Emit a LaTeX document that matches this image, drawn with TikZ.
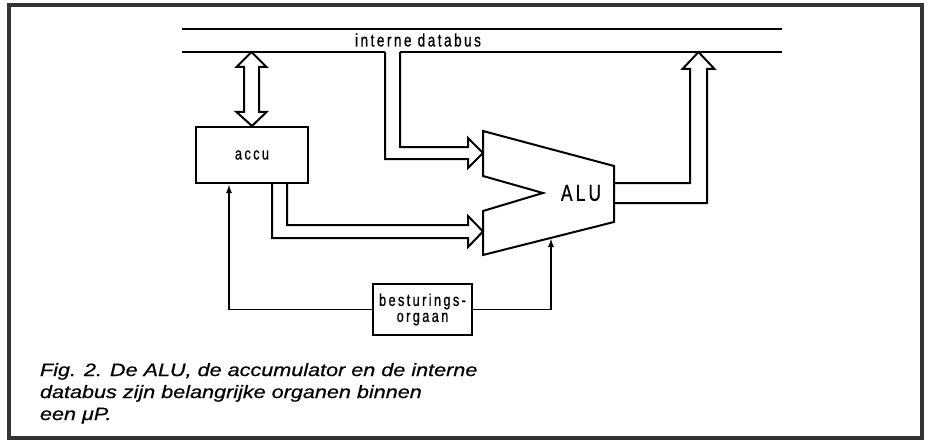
\documentclass[tikz,border=0pt]{standalone}
\usepackage{fontspec}
\usetikzlibrary{arrows.meta,positioning}
\setmainfont{Liberation Sans}
\newfontfamily\lblfont[FakeStretch=0.75,LetterSpace=14,FakeBold=0.8]{Liberation Sans}
\newfontfamily\capfont[FakeStretch=1.2,FakeBold=0.5]{Liberation Sans}

\begin{document}
\begin{tikzpicture}[
			x=1pt, y=-1pt,
			line width=2pt,
			blok/.style={rectangle, draw=black, fill=white, inner sep=0pt, align=center},
			stuur/.style={-{Latex[length=9pt,width=6pt]}, line width=1.8pt},
			dik/.style={line width=2pt, line join=miter},
			label/.style={inner sep=0pt, font=\lblfont\fontsize{17}{17}\selectfont}
		]
		\useasboundingbox (0,0) rectangle (933,441);
		\draw[line width=3.5pt, black!80] (9,5) rectangle (922,438);

		% interne databus
		\draw (182,29) -- (782,29);
		\draw (182,52) -- (385,52) (400,52) -- (782,52);
		\node[label, font=\lblfont\fontsize{18}{18}\selectfont] (bus) at (418,40) {interne databus};

		% blokken
		\node[blok, minimum width=112pt, minimum height=56pt, label] (accu) at (252,155) {accu};
		\node[blok, minimum width=99pt, minimum height=51pt, label, font=\lblfont\fontsize{17}{16}\selectfont] (besturing) at (422.5,309.5) {besturings-\\orgaan};

		% ALU
		\coordinate (in1) at (483,153);
		\coordinate (in2) at (483,231.5);
		\coordinate (stuurin) at (551,238);
		\coordinate (uit) at (698.5,52);
		\draw[dik, fill=white] (483,131) -- (614,166) -- (614,222) -- (483,255) -- (483,211) -- (543,193) -- (483,176) -- cycle;
		\node[label, font=\lblfont\fontsize{23}{23}\selectfont] (alu) at (581,193) {ALU};

		% brede pijlen
		\draw[dik] (251.5,52) -- (266.5,67) -- (259,67) -- (259,112) -- (266.5,112) -- (accu.north) -- (236.5,112) -- (244,112) -- (244,67) -- (236.5,67) -- cycle;
		\draw[dik] (385,52) |- (468,159) -- (468,168) -- (in1) -- (468,138) -- (468,147) -| (400,52);
		\draw[dik] ([xshift=20pt]accu.south) |- (468,238) -- (468,247) -- (in2) -- (468,216) -- (468,225) -| ([xshift=35pt]accu.south);
		\draw[dik] (614,183) -| (690,69) -- (682.5,69) -- (uit) -- (714.5,69) -- (707,69) |- (614,203);

		% besturing
		\draw[stuur] (besturing.west) -| ([xshift=-23pt]accu.south);
		\draw[stuur] (besturing.east) -| (stuurin);

		\node[anchor=north west, align=left, inner sep=0pt, font=\capfont\itshape\fontsize{18}{22}\selectfont] (bijschrift) at (39,362) {Fig. 2. De ALU, de accumulator en de interne\\databus zijn belangrijke organen binnen\\een μP.};
	\end{tikzpicture}
\end{document}
